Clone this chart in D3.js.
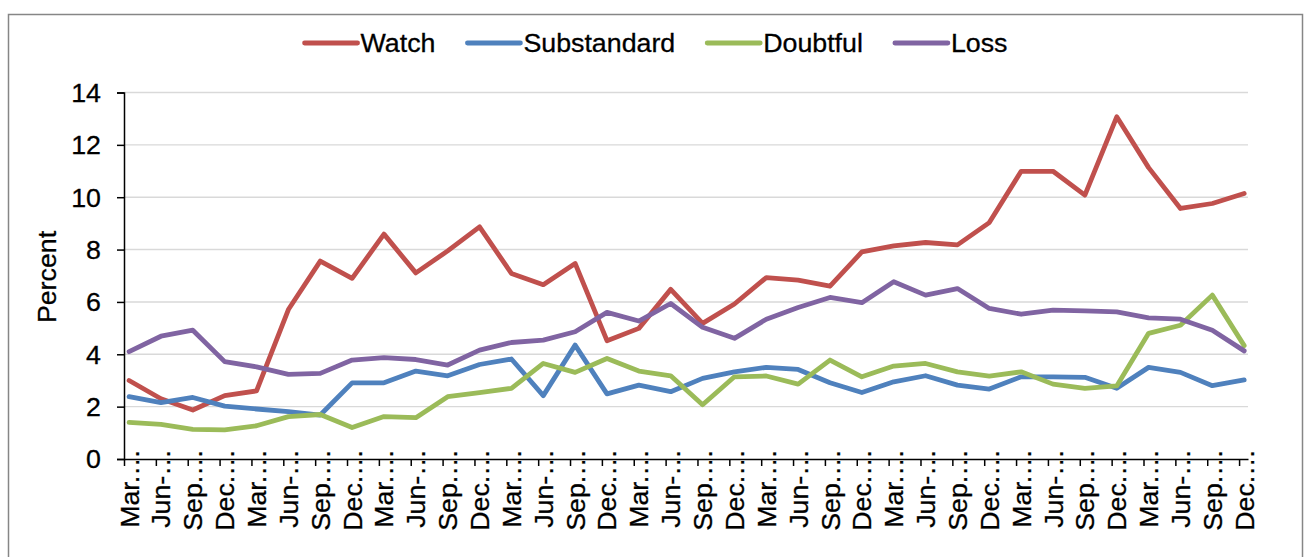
<!DOCTYPE html>
<html>
<head>
<meta charset="utf-8">
<script src="https://cdn.jsdelivr.net/npm/d3@7"></script>
<style>
  body { margin: 0; background: #fff; }
  svg { display: block; font-family: "Liberation Sans", Arial, sans-serif; }
  text { stroke: #000; stroke-width: 0.3px; }
</style>
</head>
<body>
<div id="chart"></div>
<script>
// quarter labels, truncated the way the original axis shows them
const quarters = ["Mar.…", "Jun-…", "Sep.…", "Dec.…"];
const categories = d3.range(9).flatMap(() => quarters);

const watch = [3.0, 2.3, 1.87, 2.42, 2.6, 5.71, 7.56, 6.9, 8.59, 7.11,
  7.95, 8.87, 7.09, 6.66, 7.47, 4.52, 4.99, 6.48, 5.18, 5.92,
  6.93, 6.83, 6.6, 7.91, 8.14, 8.27, 8.18, 9.03, 10.99, 10.99,
  10.08, 13.07, 11.13, 9.57, 9.76, 10.14];
const substandard = [2.38, 2.15, 2.35, 2.02, 1.91, 1.81, 1.68, 2.91, 2.91, 3.36,
  3.18, 3.61, 3.82, 2.42, 4.35, 2.49, 2.82, 2.57, 3.08, 3.33,
  3.5, 3.42, 2.91, 2.54, 2.95, 3.18, 2.82, 2.67, 3.14, 3.14,
  3.12, 2.7, 3.5, 3.31, 2.8, 3.02];
const doubtful = [1.4, 1.32, 1.13, 1.11, 1.27, 1.62, 1.7, 1.2, 1.62, 1.58,
  2.38, 2.54, 2.7, 3.65, 3.31, 3.84, 3.36, 3.18, 2.07, 3.14,
  3.17, 2.86, 3.78, 3.14, 3.55, 3.65, 3.33, 3.17, 3.33, 2.86,
  2.7, 2.79, 4.8, 5.11, 6.26, 4.33];
const loss = [4.1, 4.69, 4.92, 3.72, 3.52, 3.23, 3.27, 3.78, 3.87, 3.8,
  3.59, 4.16, 4.45, 4.54, 4.86, 5.6, 5.27, 5.94, 5.03, 4.61,
  5.34, 5.79, 6.17, 5.97, 6.77, 6.26, 6.51, 5.75, 5.53, 5.69,
  5.66, 5.62, 5.39, 5.34, 4.92, 4.13];

const seriesNames = ["Watch", "Substandard", "Doubtful", "Loss"];
const seriesValues = [watch, substandard, doubtful, loss];
const colors = ["#C0504D", "#4F81BD", "#9BBB59", "#8064A2"];
const yTicks = [0, 2, 4, 6, 8, 10, 12, 14];

const width = 1308, height = 557;
const plot = { left: 124, right: 1248, top: 92.5, bottom: 459 };
const fontSize = 26, stretch = 1.03;

const svg = d3.select("#chart").append("svg")
  .attr("width", width)
  .attr("height", height);

// chart area border (bottom edge falls outside the picture)
svg.append("rect")
  .attr("x", 8.5).attr("y", 14.5)
  .attr("width", 1294).attr("height", 600)
  .attr("fill", "#fff")
  .attr("stroke", "#868686")
  .attr("stroke-width", 1.5);

const x = d3.scaleLinear()
  .domain([-0.16, categories.length - 1 + 0.12])
  .range([plot.left, plot.right]);

const y = d3.scaleLinear()
  .domain([0, 14])
  .range([plot.bottom, plot.top]);

// gridlines
svg.append("g")
  .selectAll("line")
  .data(yTicks.filter(d => d > 0))
  .enter()
  .append("line")
  .attr("x1", plot.left).attr("x2", plot.right)
  .attr("y1", d => y(d)).attr("y2", d => y(d))
  .attr("stroke", "#D9D9D9")
  .attr("stroke-width", 1.4);

// y axis
const yAxis = svg.append("g")
  .attr("transform", "translate(" + plot.left + ",0)")
  .call(d3.axisLeft(y).tickValues(yTicks).tickSize(7).tickFormat(""));
yAxis.select(".domain").attr("stroke", "#000").attr("stroke-width", 1.5);
yAxis.selectAll(".tick line").attr("stroke", "#000").attr("stroke-width", 1.5);

svg.append("g")
  .selectAll("text")
  .data(yTicks)
  .enter()
  .append("text")
  .attr("transform", d => "translate(101," + y(d) + ") scale(" + stretch + ",1)")
  .attr("dy", "0.36em")
  .attr("text-anchor", "end")
  .attr("font-size", fontSize)
  .attr("fill", "#000")
  .text(d => d);

svg.append("text")
  .attr("transform", "translate(56,277) rotate(-90) scale(" + stretch + ",1)")
  .attr("text-anchor", "middle")
  .attr("font-size", fontSize)
  .text("Percent");

// x axis: ticks sit just left of each point
const tickPos = categories.map((c, i) => i - 0.16);
const xAxis = svg.append("g")
  .attr("transform", "translate(0," + plot.bottom + ")")
  .call(d3.axisBottom(x).tickValues(tickPos).tickSize(7).tickSizeOuter(0).tickFormat(""));
xAxis.select(".domain").attr("stroke", "#000").attr("stroke-width", 1.5);
xAxis.selectAll(".tick line").attr("stroke", "#000").attr("stroke-width", 1.5);

svg.append("g")
  .selectAll("text")
  .data(categories)
  .enter()
  .append("text")
  .attr("transform", (d, i) => "translate(" + (x(i) + 9.5) + ",449) rotate(-90) scale(" + stretch + ",1)")
  .attr("text-anchor", "end")
  .attr("font-size", fontSize)
  .attr("fill", "#000")
  .text(d => d);

// series lines
const line = d3.line()
  .x((d, i) => x(i))
  .y(d => y(d));

svg.append("g")
  .selectAll("path")
  .data(seriesValues)
  .enter()
  .append("path")
  .attr("d", d => line(d))
  .attr("fill", "none")
  .attr("stroke", (d, i) => colors[i])
  .attr("stroke-width", 4.8)
  .attr("stroke-linejoin", "round")
  .attr("stroke-linecap", "round");

// legend
const legend = svg.append("g");
const swatch = 53, gapText = 3, gapItem = 32;
let cursor = 0;
seriesNames.forEach((name, i) => {
  const item = legend.append("g").attr("transform", "translate(" + cursor + ",0)");
  item.append("line")
    .attr("x1", 0).attr("x2", swatch)
    .attr("y1", 0).attr("y2", 0)
    .attr("stroke", colors[i])
    .attr("stroke-width", 4.8)
    .attr("stroke-linecap", "round");
  const t = item.append("text")
    .attr("transform", "translate(" + (swatch + gapText) + ",0) scale(" + stretch + ",1)")
    .attr("dy", "0.36em")
    .attr("font-size", fontSize)
    .text(name);
  cursor += swatch + gapText + t.node().getComputedTextLength() * stretch + gapItem;
});
const legendWidth = cursor - gapItem;
legend.attr("transform", "translate(" + (656 - legendWidth / 2) + ",43)");
</script>
</body>
</html>
